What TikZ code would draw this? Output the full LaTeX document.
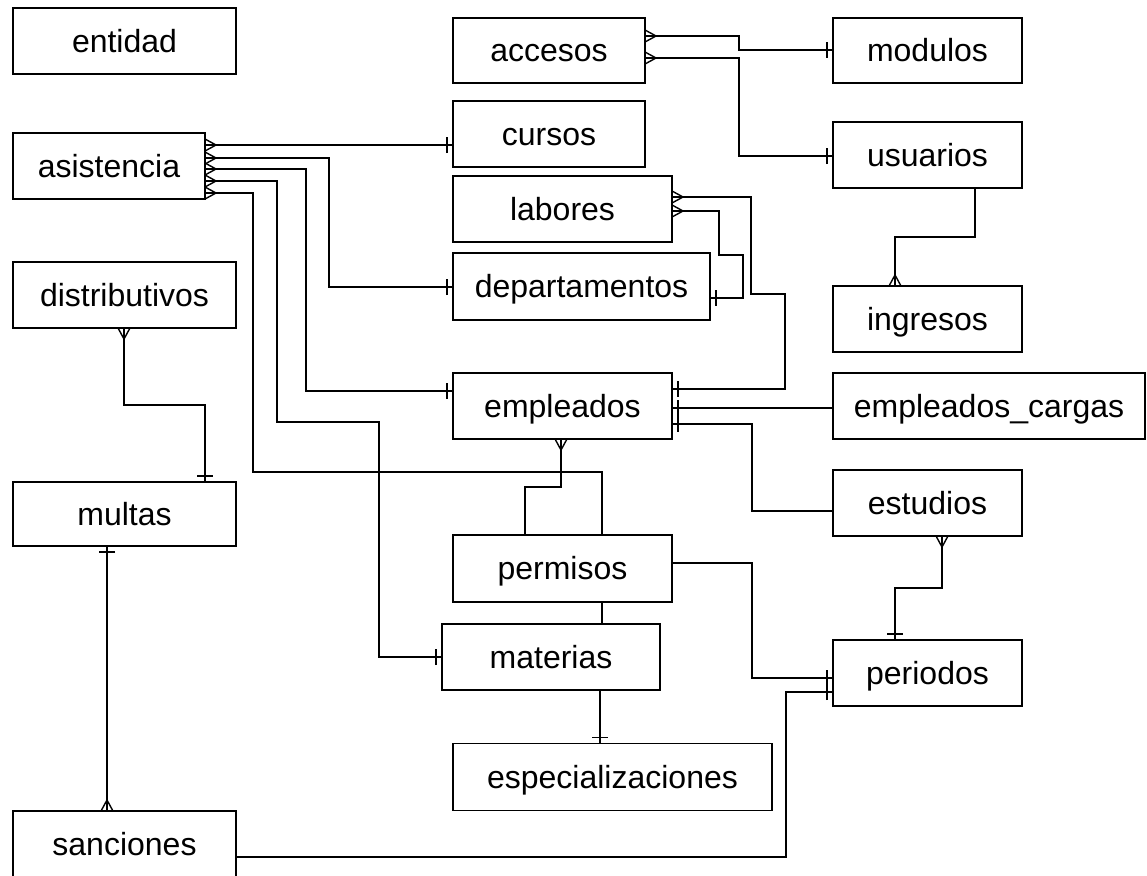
\documentclass[tikz,border=0pt]{standalone}
\usepackage{fontspec}
\setmainfont{Liberation Sans}
\begin{document}
\begin{tikzpicture}[x=1pt,y=-1pt,
  ent/.style={draw,rectangle,line width=1.7pt,inner sep=0pt,outer sep=0pt,text height=28.7pt,text depth=6.6pt,font=\fontsize{32}{36}\selectfont},
  conn/.style={draw,line width=1.7pt},
  crow/.pic={\draw[line width=1.4pt] (0,-6) -- (11,0) -- (0,6); \draw[line width=1.4pt] (0,0) -- (11,0);},
  onebar/.pic={\draw[line width=1.7pt] (6,-8) -- (6,8);}]
\fill[white] (0,0) rectangle (1147,875);
\useasboundingbox (0,0) rectangle (1147,875);
\clip (0,0) rectangle (1147,875);
% entities
\node[ent,minimum width=223,minimum height=66] (entidad) at (124.5,41) {entidad};
\node[ent,minimum width=192,minimum height=65] (accesos) at (549,50.5) {accesos};
\node[ent,minimum width=189,minimum height=65] (modulos) at (927.5,50.5) {modulos};
\node[ent,minimum width=192,minimum height=66] (cursos) at (549,134) {cursos};
\node[ent,minimum width=189,minimum height=66] (usuarios) at (927.5,155) {usuarios};
\node[ent,minimum width=192,minimum height=66] (asis) at (109,166) {asistencia};
\node[ent,minimum width=219,minimum height=66] (labores) at (562.5,209) {labores};
\node[ent,minimum width=257,minimum height=67] (dep) at (581.5,286.5) {departamentos};
\node[ent,minimum width=223,minimum height=66] (distr) at (124.5,295) {distributivos};
\node[ent,minimum width=189,minimum height=66] (ingresos) at (927.5,319) {ingresos};
\node[ent,minimum width=219,minimum height=66] (empl) at (562.5,406) {empleados};
\node[ent,minimum width=312,minimum height=66] (cargas) at (989,406) {empleados\_cargas};
\node[ent,minimum width=223,minimum height=64] (multas) at (124.5,514) {multas};
\node[ent,minimum width=189,minimum height=66] (estudios) at (927.5,503) {estudios};
\node[ent,minimum width=219,minimum height=67] (permisos) at (562.5,568.5) {permisos};
\node[ent,minimum width=218,minimum height=66] (materias) at (551,657) {materias};
\node[ent,minimum width=189,minimum height=66] (periodos) at (927.5,673) {periodos};
\node[ent,minimum width=319,minimum height=67] (espec) at (612.5,777) {especializaciones};
\node[ent,minimum width=223,minimum height=66] (sanc) at (124.5,844) {sanciones};
% asistencia relations
\draw[conn] (asis.east|-0,145) -- (cursos.west|-0,145);
\pic at (asis.east|-0,145) {crow}; \pic[rotate=180] at (cursos.west|-0,145) {onebar};
\draw[conn] (asis.east|-0,158) -- (329,158) -- (329,287) -- (dep.west|-0,287);
\pic at (asis.east|-0,158) {crow}; \pic[rotate=180] at (dep.west|-0,287) {onebar};
\draw[conn] (asis.east|-0,169) -- (306,169) -- (306,391) -- (empl.west|-0,391);
\pic at (asis.east|-0,169) {crow}; \pic[rotate=180] at (empl.west|-0,391) {onebar};
\draw[conn] (asis.east|-0,181) -- (277,181) -- (277,422) -- (379,422) -- (379,657) -- (materias.west|-0,657);
\pic at (asis.east|-0,181) {crow}; \pic[rotate=180] at (materias.west|-0,657) {onebar};
\draw[conn] (asis.east|-0,193) -- (253,193) -- (253,472) -- (602,472) -- (permisos.north-|602,0);
\pic at (asis.east|-0,193) {crow};
% empleados - permisos
\draw[conn] (empl.south-|561,0) -- (561,487) -- (525,487) -- (permisos.north-|525,0);
\pic[rotate=-90] at (empl.south-|561,0) {crow};
% permisos - materias
\draw[conn] (permisos.south-|602,0) -- (materias.north-|602,0);
% materias - especializaciones
\draw[conn] (materias.south-|600,0) -- (espec.north-|600,0);
\pic[rotate=90] at (espec.north-|600,0) {onebar};
% accesos
\draw[conn] (accesos.east|-0,36) -- (739,36) -- (739,50) -- (modulos.west|-0,50);
\pic at (accesos.east|-0,36) {crow}; \pic[rotate=180] at (modulos.west|-0,50) {onebar};
\draw[conn] (accesos.east|-0,58) -- (739,58) -- (739,156) -- (usuarios.west|-0,156);
\pic at (accesos.east|-0,58) {crow}; \pic[rotate=180] at (usuarios.west|-0,156) {onebar};
% usuarios - ingresos
\draw[conn] (usuarios.south-|975,0) -- (975,237) -- (895,237) -- (ingresos.north-|895,0);
\pic[rotate=90] at (ingresos.north-|895,0) {crow};
% labores
\draw[conn] (labores.east|-0,197) -- (751,197) -- (751,294) -- (785,294) -- (785,389) -- (empl.east|-0,389);
\pic at (labores.east|-0,197) {crow}; \pic at (empl.east|-0,389) {onebar};
\draw[conn] (labores.east|-0,211) -- (719,211) -- (719,255) -- (743,255) -- (743,298) -- (dep.east|-0,298);
\pic at (labores.east|-0,211) {crow}; \pic at (dep.east|-0,298) {onebar};
% empleados right side
\draw[conn] (empl.east|-0,408) -- (cargas.west|-0,408);
\pic at (empl.east|-0,408) {onebar};
\draw[conn] (empl.east|-0,424) -- (752,424) -- (752,511) -- (estudios.west|-0,511);
\pic at (empl.east|-0,424) {onebar};
% estudios - periodos
\draw[conn] (estudios.south-|942,0) -- (942,588) -- (895,588) -- (periodos.north-|895,0);
\pic[rotate=-90] at (estudios.south-|942,0) {crow}; \pic[rotate=90] at (periodos.north-|895,0) {onebar};
% permisos - periodos
\draw[conn] (permisos.east|-0,563) -- (752,563) -- (752,678) -- (periodos.west|-0,678);
\pic[rotate=180] at (periodos.west|-0,678) {onebar};
% distributivos - multas
\draw[conn] (distr.south-|124,0) -- (124,405) -- (205,405) -- (multas.north-|205,0);
\pic[rotate=-90] at (distr.south-|124,0) {crow}; \pic[rotate=90] at (multas.north-|205,0) {onebar};
% multas - sanciones
\draw[conn] (multas.south-|107,0) -- (sanc.north-|107,0);
\pic[rotate=-90] at (multas.south-|107,0) {onebar}; \pic[rotate=90] at (sanc.north-|107,0) {crow};
% sanciones - periodos
\draw[conn] (sanc.east|-0,857) -- (786,857) -- (786,692) -- (periodos.west|-0,692);
\pic[rotate=180] at (periodos.west|-0,692) {onebar};
\end{tikzpicture}
\end{document}
